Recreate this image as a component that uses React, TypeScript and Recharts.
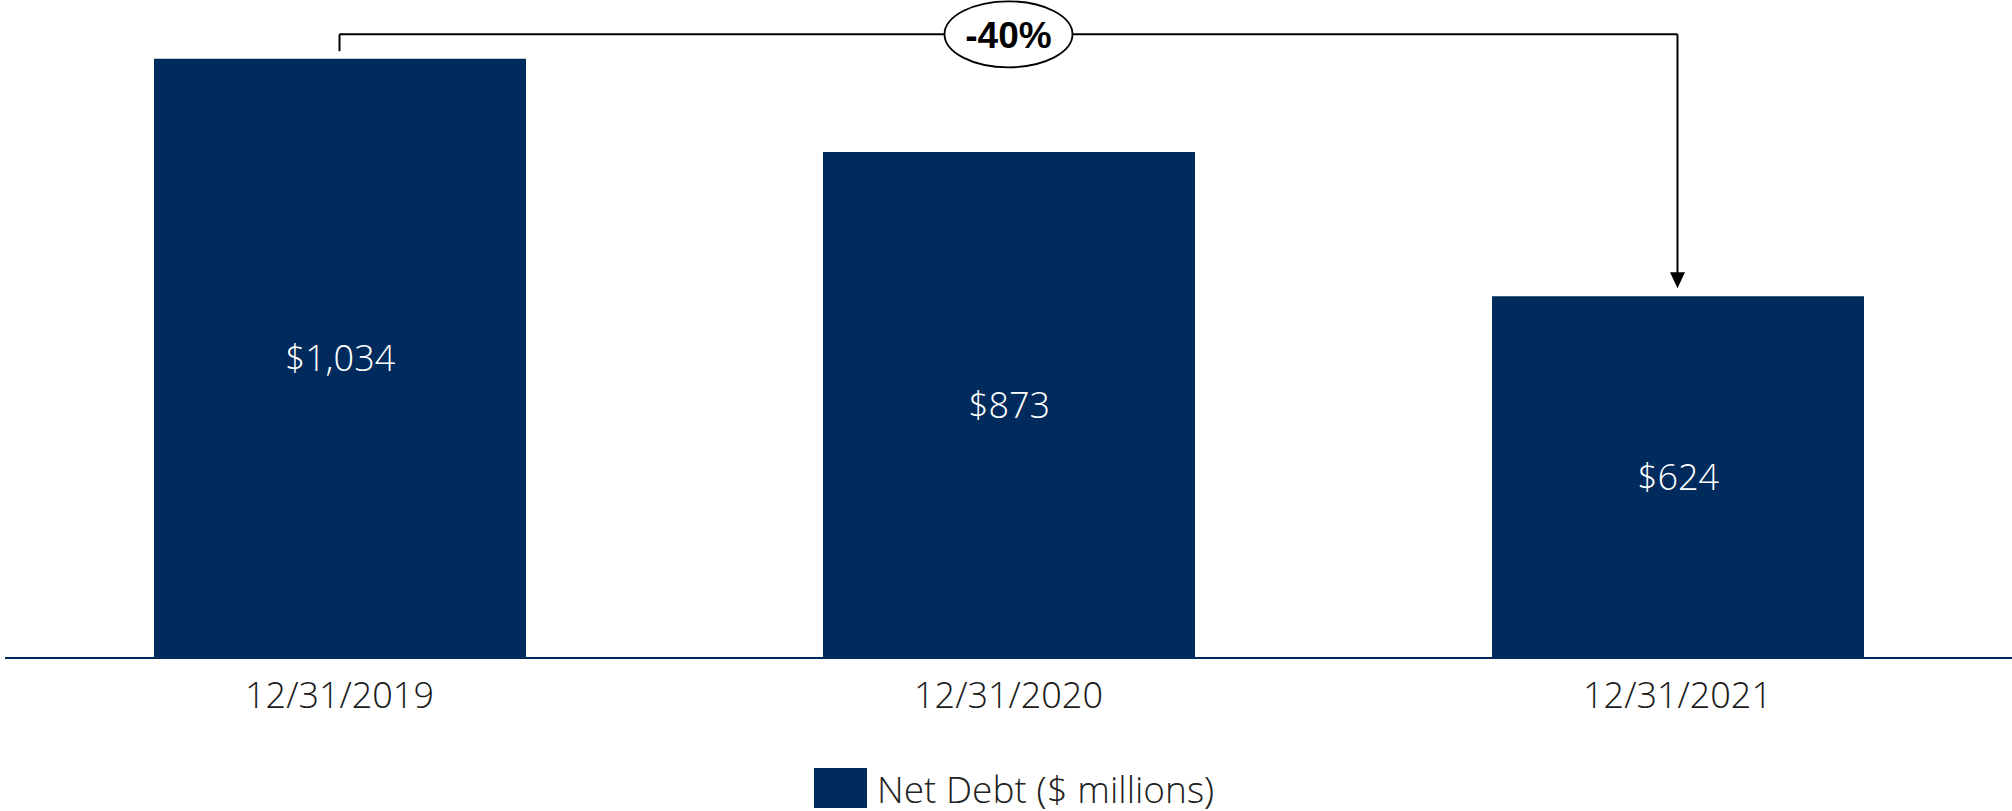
import {
  BarChart,
  Bar,
  XAxis,
  YAxis,
  Legend,
  LabelList,
  ReferenceLine,
  ReferenceDot,
} from "recharts";

const categories = ["12/31/2019", "12/31/2020", "12/31/2021"];
const netDebt = [1034, 873, 624];
const seriesName = "Net Debt ($ millions)";

// bracket annotation levels, in $ millions on the value scale
const bracketLevel = 1076;
const bracketStubEnd = 1047;
const arrowTip = 638;

const NAVY = "#002B5C";
const FONT = "'Open Sans Light', 'Open Sans', sans-serif";

const data = categories.map((date, i) => ({ date, value: netDebt[i] }));

const first = netDebt[0];
const last = netDebt[netDebt.length - 1];
const changeLabel = `${Math.round(((last - first) / first) * 100)}%`;

function formatMoney(v: number) {
  return `$${Number(v).toLocaleString("en-US")}`;
}

function BubbleShape(props: any) {
  const { cx, cy } = props;
  return (
    <g>
      <ellipse cx={cx} cy={cy} rx={64} ry={33} fill="#fff" stroke="#000" strokeWidth={1.8} />
      <text
        x={cx}
        y={cy}
        dy="0.37em"
        textAnchor="middle"
        fontFamily="'Liberation Sans', Arial, sans-serif"
        fontWeight={700}
        fontSize={37}
        fill="#000"
      >
        {changeLabel}
      </text>
    </g>
  );
}

function ArrowHead(props: any) {
  const { cx, cy } = props;
  return <polygon points={`${cx - 7.5},${cy - 16} ${cx + 7.5},${cy - 16} ${cx},${cy}`} fill="#000" />;
}

function LegendContent(props: any) {
  const item = props.payload?.[0];
  return (
    <div style={{ display: "flex", alignItems: "center" }}>
      <div style={{ width: 53, height: 40, background: NAVY }} />
      <span
        style={{
          marginLeft: 10,
          fontFamily: FONT,
          fontWeight: 300,
          fontSize: 37,
          lineHeight: 1,
          color: "#222",
          whiteSpace: "nowrap",
        }}
      >
        {item ? item.value : seriesName}
      </span>
    </div>
  );
}

export default function App() {
  return (
    <div style={{ position: "absolute", left: 0, top: 0, width: 2012, height: 811, background: "#fff" }}>
      <BarChart
        width={2012}
        height={811}
        data={data}
        margin={{ top: 3, right: 0, bottom: 0, left: 5 }}
      >
        <XAxis
          dataKey="date"
          height={153}
          axisLine={{ stroke: NAVY, strokeWidth: 2 }}
          tickLine={false}
          tickMargin={18}
          tick={{ fontFamily: FONT, fontWeight: 300, fontSize: 36, fill: "#1a1a1a" }}
        />
        <YAxis hide domain={[0, 1130]} />
        <Legend
          layout="horizontal"
          verticalAlign="middle"
          align="center"
          wrapperStyle={{ top: 768, left: 814, width: 600 }}
          content={<LegendContent />}
        />
        <Bar dataKey="value" name={seriesName} fill={NAVY} barSize={372} isAnimationActive={false}>
          <LabelList
            dataKey="value"
            position="center"
            formatter={formatMoney}
            fill="#fff"
            fontFamily={FONT}
            fontWeight={300}
            fontSize={36}
          />
        </Bar>
        <ReferenceLine
          segment={[
            { x: categories[0], y: bracketStubEnd },
            { x: categories[0], y: bracketLevel },
          ]}
          stroke="#000"
          strokeWidth={2}
        />
        <ReferenceLine
          segment={[
            { x: categories[0], y: bracketLevel },
            { x: categories[2], y: bracketLevel },
          ]}
          stroke="#000"
          strokeWidth={2}
        />
        <ReferenceLine
          segment={[
            { x: categories[2], y: bracketLevel },
            { x: categories[2], y: arrowTip + 20 },
          ]}
          stroke="#000"
          strokeWidth={2}
        />
        <ReferenceDot x={categories[2]} y={arrowTip} shape={<ArrowHead />} />
        <ReferenceDot x={categories[1]} y={bracketLevel} shape={<BubbleShape />} />
      </BarChart>
    </div>
  );
}
